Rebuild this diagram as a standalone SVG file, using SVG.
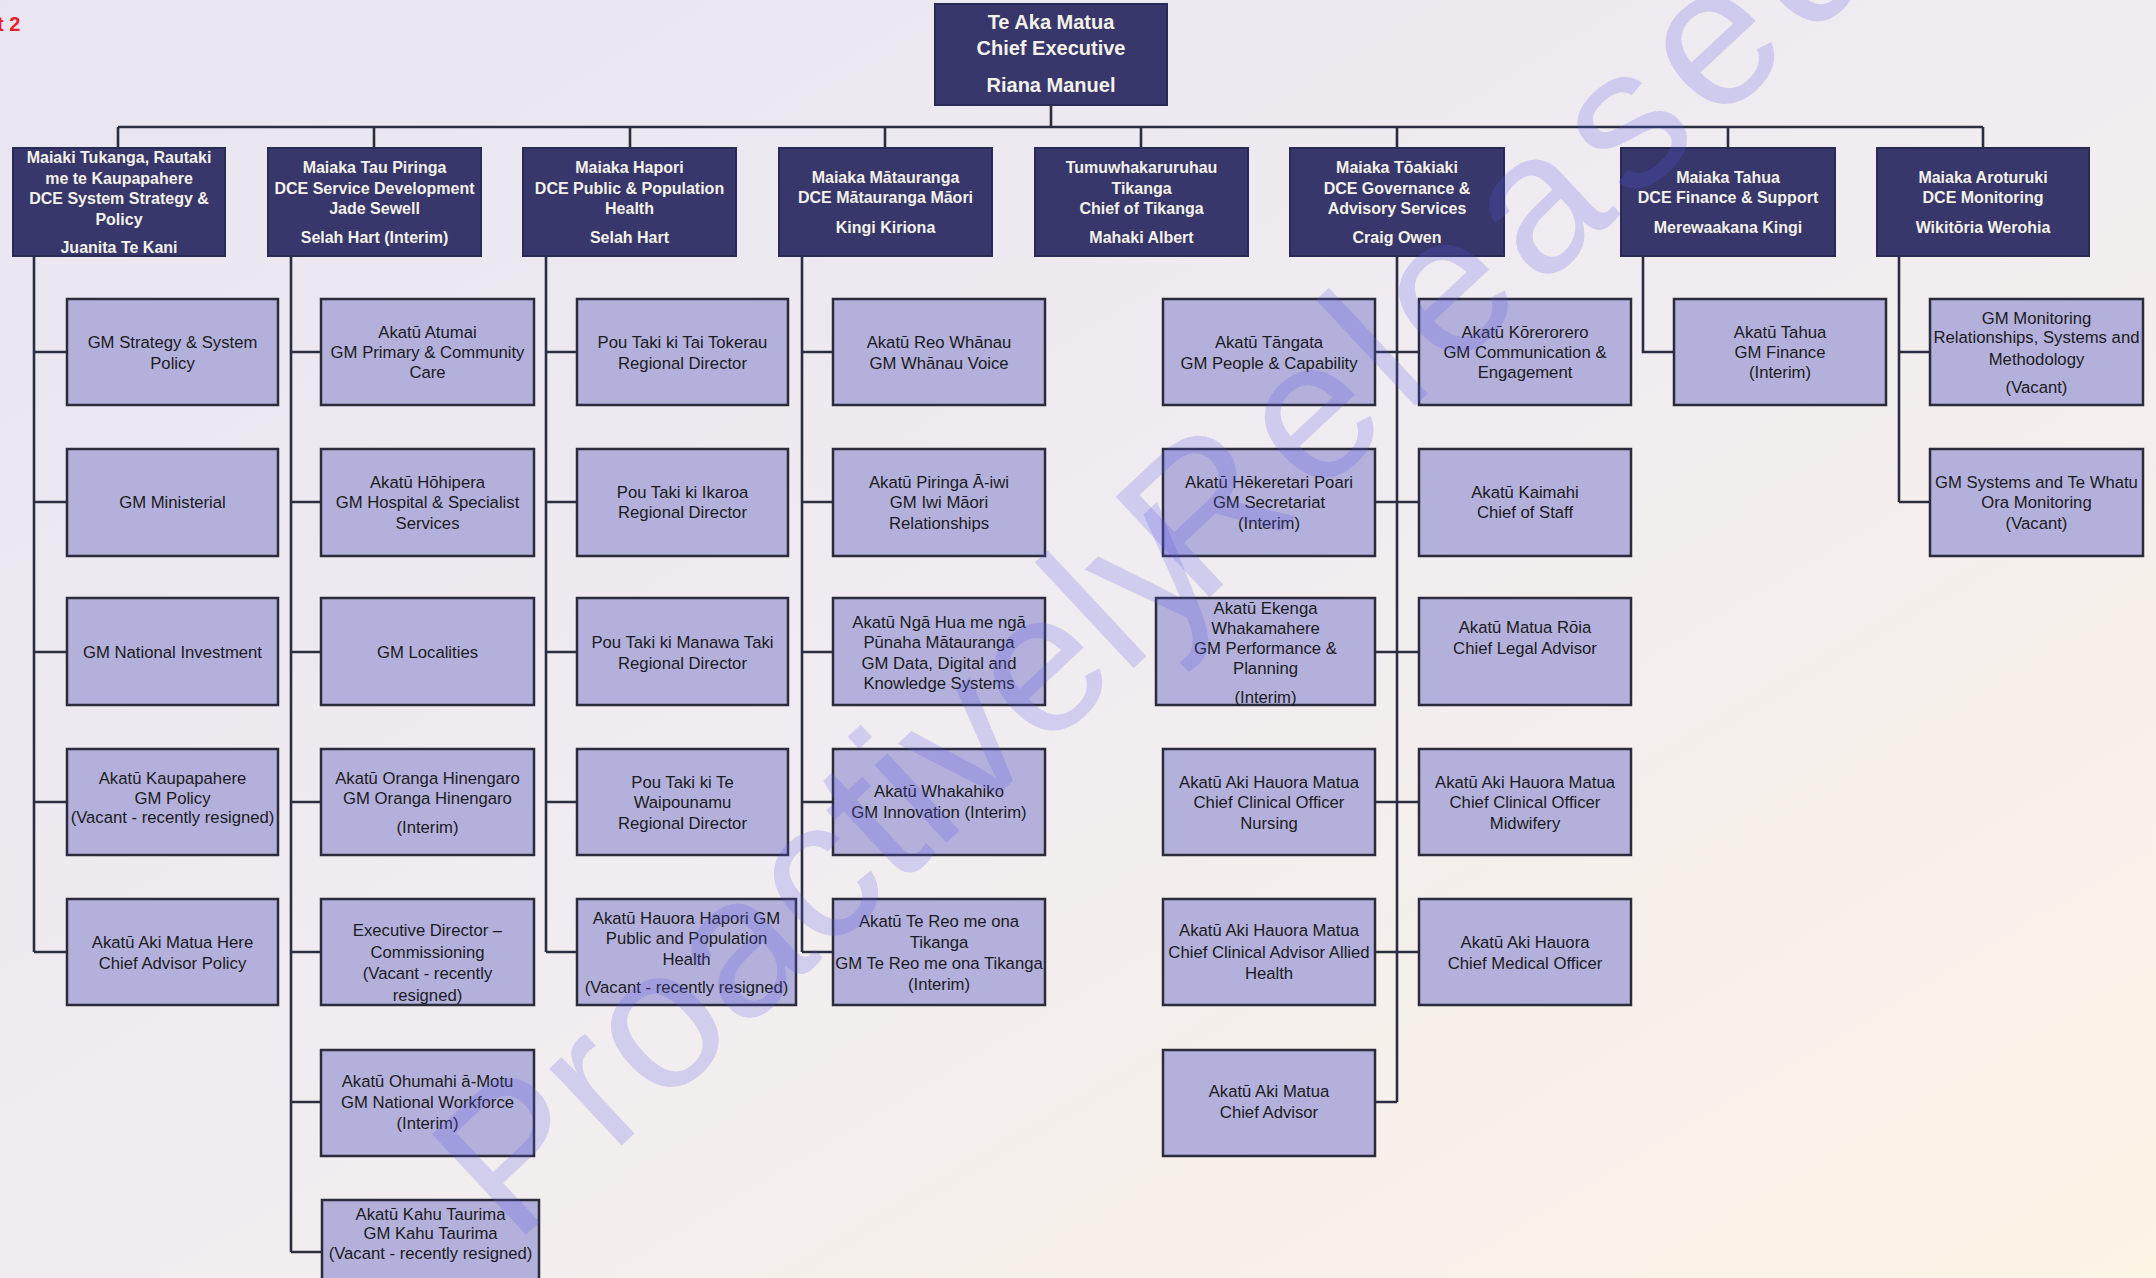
<svg xmlns="http://www.w3.org/2000/svg" width="2156" height="1278" viewBox="0 0 2156 1278">
<defs>
<linearGradient id="bg" x1="0" y1="0" x2="1" y2="1">
<stop offset="0" stop-color="#E8E5F1"/>
<stop offset="0.5" stop-color="#F1ECF0"/>
<stop offset="1" stop-color="#FCF4E5"/>
</linearGradient>
<style>
.l2 rect{fill:#37376C;stroke:#2A2B55;stroke-width:2}
.l2 text{font-family:"Liberation Sans",Arial,sans-serif;font-weight:bold;font-size:16px;fill:#F4F1E8;text-anchor:middle}
.ce text{font-size:20px}
.l3 rect{fill:#B4B0DC;stroke:#2B2B3B;stroke-width:2.5}
.l3 text{font-family:"Liberation Sans",Arial,sans-serif;font-size:16.7px;fill:#1B1B22;text-anchor:middle}
#connectors path{fill:none;stroke:#2B2D40;stroke-width:2.6}
.wm{font-family:"Liberation Sans",Arial,sans-serif;font-size:200px;fill:#5A5AE6;fill-opacity:0.22}
.red{font-family:"Liberation Sans",Arial,sans-serif;font-weight:bold;font-size:20px;fill:#E8202A}
</style>
</defs>
<rect x="0" y="0" width="2156" height="1278" fill="url(#bg)"/>
<text class="red" x="-3" y="31">t 2</text>

<g id="connectors">
<path d="M1051 105V127M118 127H1983M118 127V148M374 127V148M630 127V148M885 127V148M1141 127V148M1397 127V148M1728 127V148M1983 127V148"/>
<path d="M34 256V952M34 352H67M34 502H67M34 652H67M34 802H67M34 952H67"/>
<path d="M291 256V1252M291 352H321M291 502H321M291 652H321M291 802H321M291 952H321M291 1102H321M291 1252H322"/>
<path d="M546 256V952M546 352H577M546 502H577M546 652H577M546 802H577M546 952H577"/>
<path d="M802 256V952M802 352H833M802 502H833M802 652H833M802 802H833M802 952H833"/>
<path d="M1397 256V1102M1375 352H1419M1375 502H1419M1375 652H1419M1375 802H1419M1375 952H1419M1375 1102H1397"/>
<path d="M1643 256V352H1674"/>
<path d="M1899 256V502M1899 352H1930M1899 502H1930"/>
</g>

<g id="ce" class="l2 ce"><rect x="935" y="4" width="232" height="101"/>
<text><tspan x="1051" y="29">Te Aka Matua</tspan><tspan x="1051" y="55">Chief Executive</tspan><tspan x="1051" y="92">Riana Manuel</tspan></text></g>

<g id="dce1" class="l2"><rect x="13" y="148" width="212" height="108"/>
<text><tspan x="119" y="163">Maiaki Tukanga, Rautaki</tspan><tspan x="119" y="184">me te Kaupapahere</tspan><tspan x="119" y="204">DCE System Strategy &amp;</tspan><tspan x="119" y="225">Policy</tspan><tspan x="119" y="253">Juanita Te Kani</tspan></text></g>
<g id="dce2" class="l2"><rect x="268" y="148" width="213" height="108"/>
<text><tspan x="374.5" y="173">Maiaka Tau Piringa</tspan><tspan x="374.5" y="194">DCE Service Development</tspan><tspan x="374.5" y="214">Jade Sewell</tspan><tspan x="374.5" y="243">Selah Hart (Interim)</tspan></text></g>
<g id="dce3" class="l2"><rect x="523" y="148" width="213" height="108"/>
<text><tspan x="629.5" y="173">Maiaka Hapori</tspan><tspan x="629.5" y="194">DCE Public &amp; Population</tspan><tspan x="629.5" y="214">Health</tspan><tspan x="629.5" y="243">Selah Hart</tspan></text></g>
<g id="dce4" class="l2"><rect x="779" y="148" width="213" height="108"/>
<text><tspan x="885.5" y="183">Maiaka Mātauranga</tspan><tspan x="885.5" y="203">DCE Mātauranga Māori</tspan><tspan x="885.5" y="233">Kingi Kiriona</tspan></text></g>
<g id="dce5" class="l2"><rect x="1035" y="148" width="213" height="108"/>
<text><tspan x="1141.5" y="173">Tumuwhakaruruhau</tspan><tspan x="1141.5" y="194">Tikanga</tspan><tspan x="1141.5" y="214">Chief of Tikanga</tspan><tspan x="1141.5" y="243">Mahaki Albert</tspan></text></g>
<g id="dce6" class="l2"><rect x="1290" y="148" width="214" height="108"/>
<text><tspan x="1397" y="173">Maiaka Tōakiaki</tspan><tspan x="1397" y="194">DCE Governance &amp;</tspan><tspan x="1397" y="214">Advisory Services</tspan><tspan x="1397" y="243">Craig Owen</tspan></text></g>
<g id="dce7" class="l2"><rect x="1621" y="148" width="214" height="108"/>
<text><tspan x="1728" y="183">Maiaka Tahua</tspan><tspan x="1728" y="203">DCE Finance &amp; Support</tspan><tspan x="1728" y="233">Merewaakana Kingi</tspan></text></g>
<g id="dce8" class="l2"><rect x="1877" y="148" width="212" height="108"/>
<text><tspan x="1983" y="183">Maiaka Aroturuki</tspan><tspan x="1983" y="203">DCE Monitoring</tspan><tspan x="1983" y="233">Wikitōria Werohia</tspan></text></g>

<!-- column 1 -->
<g id="c1r1" class="l3"><rect x="67" y="299" width="211" height="106"/>
<text><tspan x="172.5" y="348">GM Strategy &amp; System</tspan><tspan x="172.5" y="369">Policy</tspan></text></g>
<g id="c1r2" class="l3"><rect x="67" y="449" width="211" height="107"/>
<text><tspan x="172.5" y="508">GM Ministerial</tspan></text></g>
<g id="c1r3" class="l3"><rect x="67" y="598" width="211" height="107"/>
<text><tspan x="172.5" y="658">GM National Investment</tspan></text></g>
<g id="c1r4" class="l3"><rect x="67" y="749" width="211" height="106"/>
<text><tspan x="172.5" y="784">Akatū Kaupapahere</tspan><tspan x="172.5" y="804">GM Policy</tspan><tspan x="172.5" y="823">(Vacant - recently resigned)</tspan></text></g>
<g id="c1r5" class="l3"><rect x="67" y="899" width="211" height="106"/>
<text><tspan x="172.5" y="948">Akatū Aki Matua Here</tspan><tspan x="172.5" y="969">Chief Advisor Policy</tspan></text></g>

<!-- column 2 -->
<g id="c2r1" class="l3"><rect x="321" y="299" width="213" height="106"/>
<text><tspan x="427.5" y="338">Akatū Atumai</tspan><tspan x="427.5" y="358">GM Primary &amp; Community</tspan><tspan x="427.5" y="378">Care</tspan></text></g>
<g id="c2r2" class="l3"><rect x="321" y="449" width="213" height="107"/>
<text><tspan x="427.5" y="488">Akatū Hōhipera</tspan><tspan x="427.5" y="508">GM Hospital &amp; Specialist</tspan><tspan x="427.5" y="529">Services</tspan></text></g>
<g id="c2r3" class="l3"><rect x="321" y="598" width="213" height="107"/>
<text><tspan x="427.5" y="658">GM Localities</tspan></text></g>
<g id="c2r4" class="l3"><rect x="321" y="749" width="213" height="106"/>
<text><tspan x="427.5" y="784">Akatū Oranga Hinengaro</tspan><tspan x="427.5" y="804">GM Oranga Hinengaro</tspan><tspan x="427.5" y="833">(Interim)</tspan></text></g>
<g id="c2r5" class="l3"><rect x="321" y="899" width="213" height="106"/>
<text><tspan x="427.5" y="936">Executive Director –</tspan><tspan x="427.5" y="958">Commissioning</tspan><tspan x="427.5" y="979">(Vacant - recently</tspan><tspan x="427.5" y="1001">resigned)</tspan></text></g>
<g id="c2r6" class="l3"><rect x="321" y="1050" width="213" height="106"/>
<text><tspan x="427.5" y="1087">Akatū Ohumahi ā-Motu</tspan><tspan x="427.5" y="1108">GM National Workforce</tspan><tspan x="427.5" y="1129">(Interim)</tspan></text></g>
<g id="c2r7" class="l3"><rect x="322" y="1200" width="217" height="100"/>
<text><tspan x="430.5" y="1220">Akatū Kahu Taurima</tspan><tspan x="430.5" y="1239">GM Kahu Taurima</tspan><tspan x="430.5" y="1259">(Vacant - recently resigned)</tspan></text></g>

<!-- column 3 -->
<g id="c3r1" class="l3"><rect x="577" y="299" width="211" height="106"/>
<text><tspan x="682.5" y="348">Pou Taki ki Tai Tokerau</tspan><tspan x="682.5" y="369">Regional Director</tspan></text></g>
<g id="c3r2" class="l3"><rect x="577" y="449" width="211" height="107"/>
<text><tspan x="682.5" y="498">Pou Taki ki Ikaroa</tspan><tspan x="682.5" y="518">Regional Director</tspan></text></g>
<g id="c3r3" class="l3"><rect x="577" y="598" width="211" height="107"/>
<text><tspan x="682.5" y="648">Pou Taki ki Manawa Taki</tspan><tspan x="682.5" y="669">Regional Director</tspan></text></g>
<g id="c3r4" class="l3"><rect x="577" y="749" width="211" height="106"/>
<text><tspan x="682.5" y="788">Pou Taki ki Te</tspan><tspan x="682.5" y="808">Waipounamu</tspan><tspan x="682.5" y="829">Regional Director</tspan></text></g>
<g id="c3r5" class="l3"><rect x="577" y="899" width="219" height="106"/>
<text><tspan x="686.5" y="924">Akatū Hauora Hapori GM</tspan><tspan x="686.5" y="944">Public and Population</tspan><tspan x="686.5" y="965">Health</tspan><tspan x="686.5" y="993">(Vacant - recently resigned)</tspan></text></g>

<!-- column 4 -->
<g id="c4r1" class="l3"><rect x="833" y="299" width="212" height="106"/>
<text><tspan x="939" y="348">Akatū Reo Whānau</tspan><tspan x="939" y="369">GM Whānau Voice</tspan></text></g>
<g id="c4r2" class="l3"><rect x="833" y="449" width="212" height="107"/>
<text><tspan x="939" y="488">Akatū Piringa Ā-iwi</tspan><tspan x="939" y="508">GM Iwi Māori</tspan><tspan x="939" y="529">Relationships</tspan></text></g>
<g id="c4r3" class="l3"><rect x="833" y="598" width="212" height="107"/>
<text><tspan x="939" y="628">Akatū Ngā Hua me ngā</tspan><tspan x="939" y="648">Pūnaha Mātauranga</tspan><tspan x="939" y="669">GM Data, Digital and</tspan><tspan x="939" y="689">Knowledge Systems</tspan></text></g>
<g id="c4r4" class="l3"><rect x="833" y="749" width="212" height="106"/>
<text><tspan x="939" y="797">Akatū Whakahiko</tspan><tspan x="939" y="818">GM Innovation (Interim)</tspan></text></g>
<g id="c4r5" class="l3"><rect x="833" y="899" width="212" height="106"/>
<text><tspan x="939" y="927">Akatū Te Reo me ona</tspan><tspan x="939" y="948">Tikanga</tspan><tspan x="939" y="969">GM Te Reo me ona Tikanga</tspan><tspan x="939" y="990">(Interim)</tspan></text></g>

<!-- column 5 -->
<g id="c5r1" class="l3"><rect x="1163" y="299" width="212" height="106"/>
<text><tspan x="1269" y="348">Akatū Tāngata</tspan><tspan x="1269" y="369">GM People &amp; Capability</tspan></text></g>
<g id="c5r2" class="l3"><rect x="1163" y="449" width="212" height="107"/>
<text><tspan x="1269" y="488">Akatū Hēkeretari Poari</tspan><tspan x="1269" y="508">GM Secretariat</tspan><tspan x="1269" y="529">(Interim)</tspan></text></g>
<g id="c5r3" class="l3"><rect x="1156" y="598" width="219" height="107"/>
<text><tspan x="1265.5" y="614">Akatū Ekenga</tspan><tspan x="1265.5" y="634">Whakamahere</tspan><tspan x="1265.5" y="654">GM Performance &amp;</tspan><tspan x="1265.5" y="674">Planning</tspan><tspan x="1265.5" y="703">(Interim)</tspan></text></g>
<g id="c5r4" class="l3"><rect x="1163" y="749" width="212" height="106"/>
<text><tspan x="1269" y="788">Akatū Aki Hauora Matua</tspan><tspan x="1269" y="808">Chief Clinical Officer</tspan><tspan x="1269" y="829">Nursing</tspan></text></g>
<g id="c5r5" class="l3"><rect x="1163" y="899" width="212" height="106"/>
<text><tspan x="1269" y="936">Akatū Aki Hauora Matua</tspan><tspan x="1269" y="958">Chief Clinical Advisor Allied</tspan><tspan x="1269" y="979">Health</tspan></text></g>
<g id="c5r6" class="l3"><rect x="1163" y="1050" width="212" height="106"/>
<text><tspan x="1269" y="1097">Akatū Aki Matua</tspan><tspan x="1269" y="1118">Chief Advisor</tspan></text></g>

<!-- column 6 -->
<g id="c6r1" class="l3"><rect x="1419" y="299" width="212" height="106"/>
<text><tspan x="1525" y="338">Akatū Kōrerorero</tspan><tspan x="1525" y="358">GM Communication &amp;</tspan><tspan x="1525" y="378">Engagement</tspan></text></g>
<g id="c6r2" class="l3"><rect x="1419" y="449" width="212" height="107"/>
<text><tspan x="1525" y="498">Akatū Kaimahi</tspan><tspan x="1525" y="518">Chief of Staff</tspan></text></g>
<g id="c6r3" class="l3"><rect x="1419" y="598" width="212" height="107"/>
<text><tspan x="1525" y="633">Akatū Matua Rōia</tspan><tspan x="1525" y="654">Chief Legal Advisor</tspan></text></g>
<g id="c6r4" class="l3"><rect x="1419" y="749" width="212" height="106"/>
<text><tspan x="1525" y="788">Akatū Aki Hauora Matua</tspan><tspan x="1525" y="808">Chief Clinical Officer</tspan><tspan x="1525" y="829">Midwifery</tspan></text></g>
<g id="c6r5" class="l3"><rect x="1419" y="899" width="212" height="106"/>
<text><tspan x="1525" y="948">Akatū Aki Hauora</tspan><tspan x="1525" y="969">Chief Medical Officer</tspan></text></g>

<!-- column 7 -->
<g id="c7r1" class="l3"><rect x="1674" y="299" width="212" height="106"/>
<text><tspan x="1780" y="338">Akatū Tahua</tspan><tspan x="1780" y="358">GM Finance</tspan><tspan x="1780" y="378">(Interim)</tspan></text></g>

<!-- column 8 -->
<g id="c8r1" class="l3"><rect x="1930" y="299" width="213" height="106"/>
<text><tspan x="2036.5" y="324">GM Monitoring</tspan><tspan x="2036.5" y="343">Relationships, Systems and</tspan><tspan x="2036.5" y="365">Methodology</tspan><tspan x="2036.5" y="393">(Vacant)</tspan></text></g>
<g id="c8r2" class="l3"><rect x="1930" y="449" width="213" height="107"/>
<text><tspan x="2036.5" y="488">GM Systems and Te Whatu</tspan><tspan x="2036.5" y="508">Ora Monitoring</tspan><tspan x="2036.5" y="529">(Vacant)</tspan></text></g>

<text class="wm" x="514" y="1246" transform="rotate(-43 514 1246)">Proactively <tspan dx="-99" letter-spacing="14">Released</tspan></text>
</svg>
